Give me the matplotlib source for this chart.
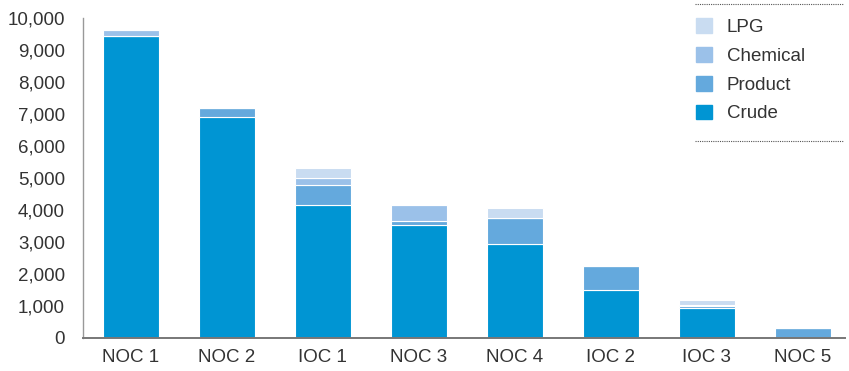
import numpy as np
import matplotlib.pyplot as plt
from matplotlib.lines import Line2D
from matplotlib.patches import Patch

plt.rcParams['font.family'] = ['Liberation Sans', 'DejaVu Sans']

# volumes by company, stacked crude -> product -> chemical -> LPG
companies = ['NOC 1', 'NOC 2', 'IOC 1', 'NOC 3', 'NOC 4', 'IOC 2', 'IOC 3', 'NOC 5']
crude = [9450, 6900, 4150, 3520, 2930, 1480, 930, 0]
product = [0, 300, 620, 130, 820, 760, 60, 300]
chemical = [190, 0, 240, 500, 0, 0, 30, 0]
lpg = [0, 0, 300, 0, 310, 0, 150, 0]

colors = {'Crude': '#0095d3', 'Product': '#64a9dd', 'Chemical': '#9bc1e9', 'LPG': '#c9dcf1'}
text_col = '#333333'
fs = 13.5

fig = plt.figure(figsize=(8.49, 3.71), dpi=100)
ax = fig.add_axes([83 / 849, 1 - 337.5 / 371, (845 - 83) / 849, (337.5 - 18.5) / 371])

x = np.arange(len(companies))
w = 0.58
bottom = np.zeros(len(companies))
for name, vals in [('Crude', crude), ('Product', product), ('Chemical', chemical), ('LPG', lpg)]:
    vals = np.array(vals, dtype=float)
    ax.bar(x, vals, w, bottom=bottom, color=colors[name], edgecolor='white', linewidth=0.8)
    bottom += vals

ax.set_xlim(-0.5, 7.44)
ax.set_ylim(0, 10000)
ax.set_yticks(np.arange(0, 10001, 1000))
ax.set_yticklabels([f'{v:,}' for v in range(0, 10001, 1000)])
ax.set_xticks(x)
ax.set_xticklabels(companies)
ax.tick_params(axis='y', length=0, pad=13, labelsize=fs, labelcolor=text_col)
ax.tick_params(axis='x', length=0, pad=8.5, labelsize=fs, labelcolor=text_col)

for s in ['top', 'right']:
    ax.spines[s].set_visible(False)
ax.spines['left'].set_color('#999999')
ax.spines['left'].set_linewidth(1.0)
ax.spines['bottom'].set_color('#777777')
ax.spines['bottom'].set_linewidth(1.4)

# legend, top entry first
handles = [Patch(color=colors[n]) for n in ['LPG', 'Chemical', 'Product', 'Crude']]
leg = fig.legend(handles, ['LPG', 'Chemical', 'Product', 'Crude'],
                 loc='upper left', bbox_to_anchor=(696 / 849, 1 - 18 / 371),
                 frameon=False, fontsize=fs, handlelength=0.85, handleheight=0.85,
                 handletextpad=0.78, labelspacing=0.58, borderpad=0, borderaxespad=0)
for t in leg.get_texts():
    t.set_color(text_col)

# dotted rules above and below the legend
for yy in [4, 140.7]:
    fig.add_artist(Line2D([695 / 849, 843 / 849], [1 - yy / 371] * 2,
                          color='#555555', linestyle=(0, (1, 1)), linewidth=0.8))

fig.savefig('out.png', dpi=100)
